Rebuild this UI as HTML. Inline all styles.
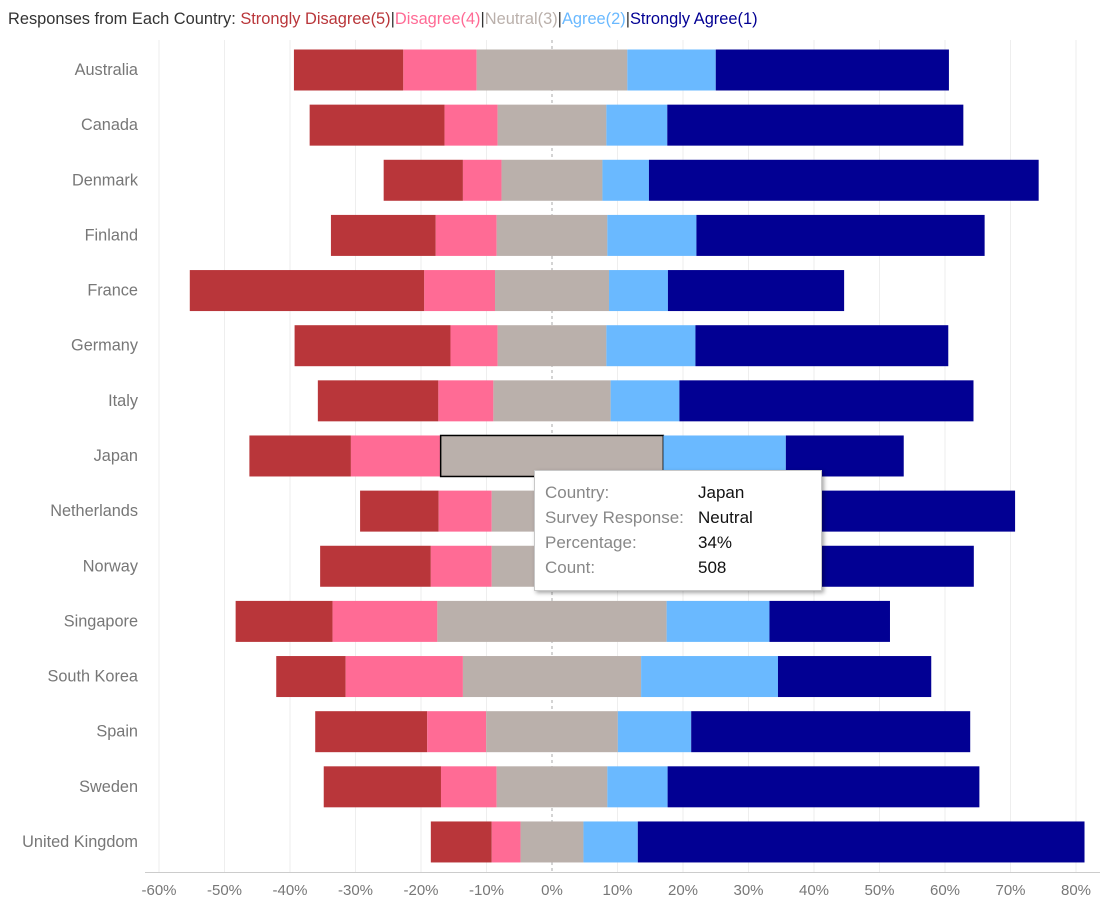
<!DOCTYPE html>
<html><head><meta charset="utf-8">
<style>
body{margin:0;background:#fff;font-family:"Liberation Sans",sans-serif;}
#wrap{position:relative;width:1108px;height:909px;overflow:hidden;}
#title{position:absolute;left:8px;top:10px;font-size:16.4px;color:#333;white-space:nowrap;}
#tip{position:absolute;left:534px;top:470px;width:286px;height:119px;background:#fff;border:1px solid #c8c8c8;box-shadow:2px 2px 4px rgba(0,0,0,0.35);font-size:17px;}
#tip div{position:absolute;left:10px;}
#tip span.k{color:#888;}
#tip span.v{position:absolute;left:153px;color:#111;white-space:nowrap;}
</style></head><body>
<div id="wrap">
<div id="title">Responses from Each Country: <span style="color:#b9363a">Strongly Disagree(5)</span>|<span style="color:#ff6b95">Disagree(4)</span>|<span style="color:#bab0ab">Neutral(3)</span>|<span style="color:#6ab9ff">Agree(2)</span>|<span style="color:#020093">Strongly Agree(1)</span></div>
<svg id="svg" width="1108" height="909" style="position:absolute;left:0;top:0"></svg>
<div id="tip">
<div style="top:12px"><span class="k">Country:</span><span class="v">Japan</span></div>
<div style="top:37px"><span class="k">Survey Response:</span><span class="v">Neutral</span></div>
<div style="top:62px"><span class="k">Percentage:</span><span class="v">34%</span></div>
<div style="top:87px"><span class="k">Count:</span><span class="v">508</span></div>
</div>
</div>
<script>
const countries=["Australia","Canada","Denmark","Finland","France","Germany","Italy","Japan","Netherlands","Norway","Singapore","South Korea","Spain","Sweden","United Kingdom"];
const stronglyDisagree=[16.7,20.6,12.1,16.0,35.8,23.8,18.4,15.5,12.0,16.9,14.8,10.6,17.1,17.9,9.3];
const disagree=[11.2,8.1,5.9,9.3,10.8,7.2,8.4,13.7,8.1,9.3,16.0,17.9,9.0,8.5,4.4];
const neutral=[23.0,16.6,15.4,16.9,17.4,16.6,17.9,34.0,18.4,18.4,35.0,27.2,20.1,16.9,9.6];
const agree=[13.5,9.3,7.1,13.6,9.0,13.6,10.5,18.7,10.3,10.0,15.7,20.9,11.2,9.2,8.3];
const stronglyAgree=[35.6,45.2,59.5,44.0,26.9,38.6,44.9,18.0,51.2,45.2,18.4,23.4,42.6,47.6,68.2];
const ticks=[-60,-50,-40,-30,-20,-10,0,10,20,30,40,50,60,70,80];
const seriesNames=["Strongly Disagree","Disagree","Neutral","Agree","Strongly Agree"];
const colors=["#b9363a","#ff6b95","#bab0ab","#6ab9ff","#020093"];
const svg=document.getElementById('svg');const NS="http://www.w3.org/2000/svg";
const X=v=>552+v*6.55;const Y=i=>70+i*55.14;
function mk(t,a){const e=document.createElementNS(NS,t);for(const k in a)e.setAttribute(k,a[k]);svg.appendChild(e);return e;}
ticks.forEach(t=>{
 const g=mk('line',{x1:X(t),x2:X(t),y1:40,y2:872,stroke:t===0?'#aaa':'#eeeeee','stroke-width':1,'stroke-dasharray':t===0?'3,3':''});
 
 
 const l=mk('text',{x:X(t),y:895,'text-anchor':'middle','font-size':15,fill:'#777','font-family':'Liberation Sans'});
 l.textContent=t+'%';
 
 
});
const ax=mk('line',{x1:145,x2:1100,y1:872.5,y2:872.5,stroke:'#ccc'});


countries.forEach((c,i)=>{
 const vals=[stronglyDisagree[i],disagree[i],neutral[i],agree[i],stronglyAgree[i]];
 let s=-(neutral[i]/2+disagree[i]+stronglyDisagree[i]);
 vals.forEach((v,j)=>{
  const sel=(c==="Japan"&&j===2);
  const r=mk('rect',{x:X(s),y:Y(i)-20.5,width:v*6.55,height:41,fill:colors[j],stroke:sel?'#000':'none','stroke-width':sel?1.5:0});
  
  
  s+=v;
 });
 const t=mk('text',{x:138,y:Y(i)+5,'text-anchor':'end','font-size':16.3,fill:'#777','font-family':'Liberation Sans'});
 t.textContent=c;
 
 
});
</script>
</body></html>
